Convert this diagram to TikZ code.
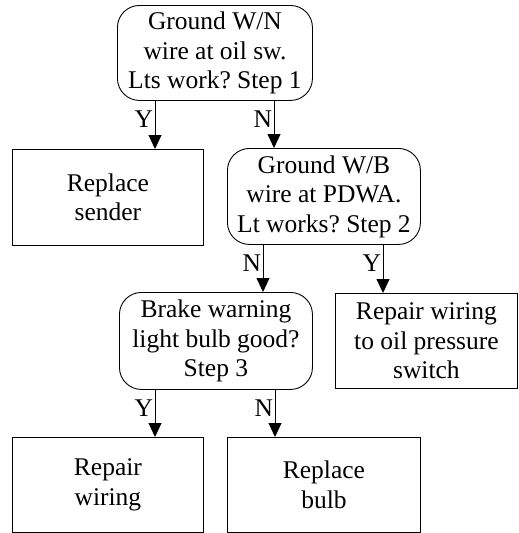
\documentclass[tikz,border=0pt]{standalone}
\usepackage{fontspec}
\setmainfont{Liberation Serif}
\usetikzlibrary{arrows.meta}
\frenchspacing
\begin{document}
\begin{tikzpicture}[x=1pt,y=-1pt,
  every node/.style={font=\fontsize{25.5}{29.5}\selectfont},
  base/.style={draw,line width=0.9pt,align=center,inner sep=0pt,anchor=north west},
  decision/.style={base,rounded corners=22pt},
  action/.style={base},
  arr/.style={line width=0.9pt,-{Triangle[length=14pt,width=13pt]}},
  lbl/.style={left,inner sep=1.5pt}]
\useasboundingbox (0,0) rectangle (519,533);
\node[decision,minimum width=195pt,minimum height=95pt] (d1) at (117,5)
  {Ground W/N\\wire at oil sw.\\Lts work? Step 1};
\node[action,minimum width=191pt,minimum height=96pt] (sender) at (12,149)
  {Replace\\sender};
\node[decision,minimum width=193pt,minimum height=96pt] (d2) at (227,148)
  {Ground W/B\\wire at PDWA.\\Lt works? Step 2};
\node[decision,minimum width=193pt,minimum height=97pt] (d3) at (119,292)
  {Brake warning\\light bulb good?\\Step 3};
\node[action,minimum width=182pt,minimum height=95pt] (oil) at (335,293)
  {Repair wiring\\to oil pressure\\switch};
\node[action,minimum width=191pt,minimum height=95pt] (wiring) at (12,437)
  {Repair\\wiring};
\node[action,minimum width=193pt,minimum height=95pt] (bulb) at (227,437)
  {Replace\\bulb};
\draw[arr] ([xshift=38pt]d1.south west) -- ([xshift=38pt]d1.south west |- sender.north)
  node[lbl,pos=0.38] {Y};
\draw[arr] ([xshift=157pt]d1.south west) -- ([xshift=157pt]d1.south west |- d2.north)
  node[lbl,pos=0.38] {N};
\draw[arr] ([xshift=36pt]d2.south west) -- ([xshift=36pt]d2.south west |- d3.north)
  node[lbl,pos=0.38] {N};
\draw[arr] ([xshift=156pt]d2.south west) -- ([xshift=156pt]d2.south west |- oil.north)
  node[lbl,pos=0.38] {Y};
\draw[arr] ([xshift=36pt]d3.south west) -- ([xshift=36pt]d3.south west |- wiring.north)
  node[lbl,pos=0.38] {Y};
\draw[arr] ([xshift=156pt]d3.south west) -- ([xshift=156pt]d3.south west |- bulb.north)
  node[lbl,pos=0.38] {N};
\end{tikzpicture}
\end{document}
